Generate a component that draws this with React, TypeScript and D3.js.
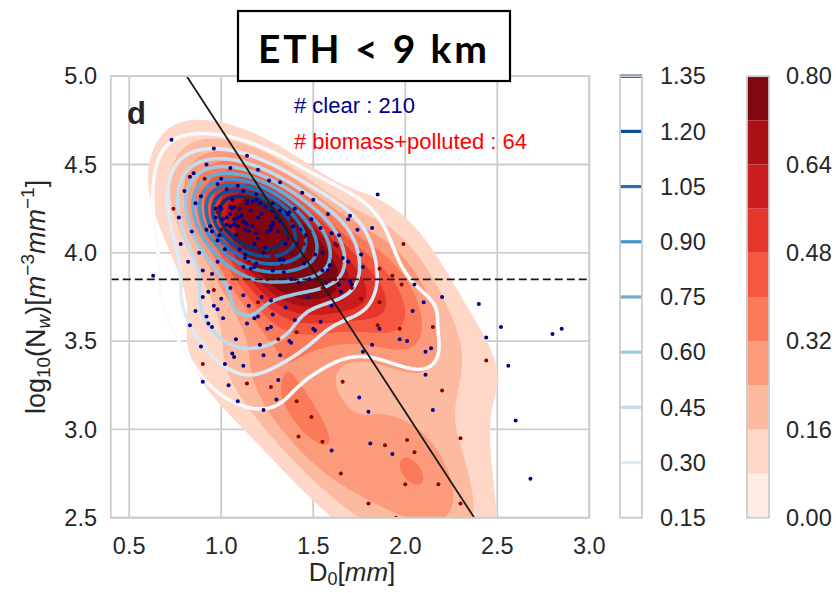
import React, { useMemo } from "react";
import * as d3 from "d3";

const W = 836;
const H = 593;

const xTicks = [0.5, 1.0, 1.5, 2.0, 2.5, 3.0];
const yTicks = [2.5, 3.0, 3.5, 4.0, 4.5, 5.0];
const clearLevels = [0.15, 0.3, 0.45, 0.6, 0.75, 0.9, 1.05, 1.2, 1.35];
const pollutedLevels = [0.0, 0.08, 0.16, 0.24, 0.32, 0.4, 0.48, 0.56, 0.64, 0.72, 0.8];
const pollutedTicks = [0.0, 0.16, 0.32, 0.48, 0.64, 0.8];

// Separator of Bringi et al.: log10(Nw) = -1.6 * D0 + 6.3
const sepSlope = -1.6;
const sepIntercept = 6.3;
const nwThreshold = 3.85;

// [D0 (mm), log10(Nw)] for clear-sky cases
const clearPoints: [number, number][] = [
  [0.73, 4.64], [0.96, 4.59], [1.14, 4.55], [0.83, 4.43], [0.98, 4.39], [1.03, 4.36], [1.26, 4.41], [1.44, 4.34],
  [0.89, 4.32], [0.77, 4.2], [0.97, 4.25], [0.99, 4.26], [1.05, 4.26], [1.06, 4.25], [1.07, 4.26], [0.97, 4.2],
  [1.01, 4.19], [1.05, 4.22], [1.07, 4.19], [1.09, 4.2], [0.94, 4.15], [0.92, 4.13], [0.95, 4.12], [1.03, 4.16],
  [1.07, 4.16], [1.09, 4.15], [1.11, 4.21], [1.13, 4.17], [1.14, 4.16], [1.13, 4.13], [1.19, 4.11], [1.17, 4.29],
  [1.19, 4.3], [1.21, 4.28], [1.14, 4.3], [1.24, 4.26], [1.28, 4.24], [1.32, 4.24], [1.37, 4.23], [1.28, 4.17],
  [1.29, 4.16], [1.27, 4.13], [1.25, 4.12], [1.32, 4.18], [1.39, 4.15], [1.49, 4.19], [1.54, 4.14], [1.43, 4.13],
  [1.6, 4.11], [1.69, 4.19], [1.74, 4.13], [1.85, 4.33], [1.82, 4.14], [1.36, 4.08], [0.98, 4.07], [0.82, 3.95],
  [1.32, 3.96], [1.45, 3.94], [1.55, 4.0], [1.66, 3.97], [1.13, 3.99], [1.23, 4.0], [1.34, 3.96], [1.38, 4.0],
  [1.41, 4.05], [1.51, 3.99], [1.59, 3.93], [1.58, 3.9], [1.69, 3.95], [1.12, 3.92], [1.16, 3.91], [1.18, 3.92],
  [1.19, 3.94], [1.28, 3.9], [1.34, 3.89], [1.38, 3.85], [1.42, 3.83], [1.48, 3.85], [1.57, 3.83], [1.64, 3.82],
  [1.7, 3.84], [1.12, 3.76], [1.27, 3.73], [1.35, 3.69], [1.65, 3.78], [1.54, 3.61], [1.18, 3.63], [1.2, 3.64],
  [1.14, 3.6], [1.25, 3.57], [1.27, 3.58], [1.5, 3.57], [1.37, 3.5], [1.38, 3.49], [1.21, 3.48], [1.32, 3.42],
  [1.23, 3.42], [0.63, 3.87], [0.9, 3.9], [0.93, 3.78], [1.0, 3.74], [0.96, 3.7], [0.98, 3.68], [0.86, 3.67],
  [0.92, 3.64], [0.93, 3.6], [0.95, 3.58], [1.01, 3.63], [0.83, 3.59], [0.89, 3.47], [1.08, 3.51], [1.06, 3.43],
  [1.07, 3.41], [0.9, 3.27], [1.02, 3.37], [1.04, 3.25], [1.09, 3.16], [1.23, 3.11], [1.31, 3.28], [1.3, 3.17],
  [1.12, 3.36], [1.51, 3.56], [1.6, 2.88], [1.75, 3.18], [1.8, 3.1], [1.81, 2.92], [1.93, 2.86], [1.76, 3.99],
  [1.77, 3.92], [1.71, 3.82], [2.05, 3.82], [2.1, 3.72], [2.2, 3.75], [2.4, 3.71], [2.04, 3.67], [1.86, 3.57],
  [2.52, 3.58], [2.8, 3.54], [2.85, 3.57], [2.44, 3.52], [1.82, 3.48], [1.97, 3.51], [2.01, 3.5], [1.77, 3.44],
  [2.11, 3.44], [2.14, 3.46], [2.56, 3.36], [2.11, 3.31], [2.15, 3.11], [2.6, 3.05], [2.68, 2.72], [1.64, 4.1],
  [1.7, 4.21],
  [1.15, 4.12], [1.2, 4.2], [1.1, 4.25], [1.25, 4.1], [1.05, 4.15], [1.18, 4.05], [1.3, 4.2], [1.12, 4.35],
  [1.0, 4.25], [1.35, 4.05], [1.12, 4.18], [1.17, 4.15], [1.08, 4.1], [1.22, 4.22], [1.14, 4.28], [1.2, 4.08],
  [1.1, 4.02], [1.27, 4.15], [1.03, 4.2], [1.16, 4.24], [1.24, 4.03], [1.06, 4.3], [1.31, 4.12], [1.19, 4.33],
  [0.99, 4.1], [1.13, 3.97], [1.28, 4.28], [1.09, 4.38], [1.36, 4.22], [1.02, 4.02],
  [0.85, 4.45], [0.92, 4.5], [1.05, 4.48], [1.2, 4.47], [1.32, 4.4], [1.5, 4.3], [1.58, 4.22], [1.62, 4.05],
  [1.55, 3.9], [1.47, 3.75], [1.4, 3.62], [1.28, 3.65], [1.15, 3.7], [1.05, 3.8], [0.95, 3.88], [0.88, 4.0],
  [0.84, 4.12], [0.86, 4.28], [0.8, 4.35], [0.78, 4.05], [1.0, 4.42], [1.4, 4.25], [1.46, 4.1], [1.22, 3.75],
  [0.98, 3.95], [0.9, 3.75], [1.6, 3.7],
];

// [D0 (mm), log10(Nw)] for biomass-burning and polluted cases
const pollutedPoints: [number, number][] = [
  [0.91, 4.42], [1.14, 4.31], [0.74, 4.25], [0.98, 4.23], [1.0, 4.13], [1.14, 4.26], [1.38, 4.18], [1.34, 4.1],
  [1.45, 4.09], [1.63, 4.04], [1.2, 3.72], [0.96, 3.79], [1.31, 3.51], [1.41, 3.55], [0.9, 3.37], [1.14, 3.26],
  [1.27, 3.24], [1.41, 3.16], [1.49, 3.07], [1.42, 2.96], [1.55, 2.93], [1.65, 2.75], [1.66, 3.27], [1.89, 2.91],
  [2.01, 2.94], [2.05, 2.87], [2.0, 2.69], [2.18, 2.69], [2.3, 2.95], [2.2, 3.22], [2.44, 3.39], [1.85, 3.59],
  [1.97, 3.57], [2.15, 3.58], [1.76, 3.74], [1.86, 3.72], [1.71, 3.8], [1.98, 3.82], [1.86, 3.91], [1.93, 3.87],
  [1.99, 4.05],
  [1.25, 4.1], [1.3, 4.05], [1.35, 4.08], [1.28, 3.98], [1.38, 4.0], [1.33, 3.93], [1.22, 4.02], [1.42, 3.95],
  [1.2, 4.15], [1.45, 4.05], [1.3, 4.15], [1.5, 3.9], [1.4, 3.85], [1.55, 3.8], [1.62, 3.85], [1.15, 3.95],
  [1.25, 3.85], [1.1, 4.1], [1.48, 4.12],
  [1.95, 2.5], [2.15, 2.45], [2.3, 2.58], [1.8, 2.58],
];

const FONT = "'Liberation Sans', Arial, sans-serif";
const TEXT = "#262626";
const GRID = "#cccccc";

const x = d3.scaleLinear().domain([0.4, 3.0]).range([110.8, 589.3]);
const y = d3.scaleLinear().domain([2.5, 5.0]).range([517.7, 76.2]);

// Gaussian KDE with Scott's rule bandwidth and full data covariance
function kdeGrid(pts: [number, number][], x0: number, y0: number, nx: number, ny: number, step: number) {
  const n = pts.length;
  const mx = d3.mean(pts, (p) => p[0])!;
  const my = d3.mean(pts, (p) => p[1])!;
  let sxx = 0, syy = 0, sxy = 0;
  for (const [a, b] of pts) {
    sxx += (a - mx) ** 2;
    syy += (b - my) ** 2;
    sxy += (a - mx) * (b - my);
  }
  sxx /= n - 1; syy /= n - 1; sxy /= n - 1;
  const f2 = Math.pow(n, -1 / 3);
  const a = sxx * f2, b = sxy * f2, c = syy * f2;
  const det = a * c - b * b;
  const ia = c / det, ib = -b / det, ic = a / det;
  const norm = 1 / (2 * Math.PI * Math.sqrt(det) * n);
  const values = new Float64Array(nx * ny);
  const gxs = d3.range(nx).map((i) => x.invert(x0 + i * step));
  for (let j = 0; j < ny; j++) {
    const gy = y.invert(y0 + j * step);
    for (let i = 0; i < nx; i++) {
      const gx = gxs[i];
      let s = 0;
      for (let k = 0; k < n; k++) {
        const dx = gx - pts[k][0];
        const dy = gy - pts[k][1];
        s += Math.exp(-0.5 * (ia * dx * dx + 2 * ib * dx * dy + ic * dy * dy));
      }
      values[i + j * nx] = s * norm;
    }
  }
  return values;
}

const clearColor = (v: number) => d3.interpolateBlues((v - 0.15) / 1.2);
const bandColor = (k: number) => d3.interpolateReds((k + 0.5) / 10);

export default function App() {
  const step = 2;
  const gx0 = 60, gy0 = 30;
  const nx = 290, ny = 280;

  const { redPaths, bluePaths } = useMemo(() => {
    const path = d3.geoPath(
      d3.geoTransform({
        point(px: number, py: number) {
          (this as any).stream.point(gx0 + (px - 0.5) * step, gy0 + (py - 0.5) * step);
        },
      })
    );
    const redVals = kdeGrid(pollutedPoints, gx0, gy0, nx, ny, step);
    const blueVals = kdeGrid(clearPoints, gx0, gy0, nx, ny, step);
    const redC = d3.contours().size([nx, ny]).thresholds(pollutedLevels.slice(1, -1))(Array.from(redVals));
    const blueC = d3.contours().size([nx, ny]).thresholds(clearLevels)(Array.from(blueVals));
    return {
      redPaths: redC.map((c, i) => ({ d: path(c as any) || "", fill: bandColor(i + 1) })),
      bluePaths: blueC.map((c) => ({ d: path(c as any) || "", stroke: clearColor(c.value) })),
    };
  }, []);

  const [xl, xr] = x.range();
  const [yb, yt] = y.range();
  const cbBlue = { x: 620, w: 22 };
  const cbRed = { x: 747, w: 22 };
  const yBlue = d3.scaleLinear().domain([0.15, 1.35]).range([yb, yt]);
  const yRed = d3.scaleLinear().domain([0, 0.8]).range([yb, yt]);

  return (
    <svg width={W} height={H} style={{ position: "absolute", left: 0, top: 0, background: "#fff" }} fontFamily={FONT}>
      <defs>
        <clipPath id="plotClip">
          <rect x={xl} y={yt} width={xr - xl} height={yb - yt} />
        </clipPath>
      </defs>

      {/* grid */}
      {xTicks.map((t) => (
        <line key={"gx" + t} x1={x(t)} x2={x(t)} y1={yt} y2={yb} stroke={GRID} strokeWidth={1.8} />
      ))}
      {yTicks.map((t) => (
        <line key={"gy" + t} x1={xl} x2={xr} y1={y(t)} y2={y(t)} stroke={GRID} strokeWidth={1.8} />
      ))}

      <g clipPath="url(#plotClip)">
        {redPaths.map((p, i) => (
          <path key={"r" + i} d={p.d} fill={p.fill} stroke="none" />
        ))}
        {bluePaths.map((p, i) => (
          <path key={"b" + i} d={p.d} fill="none" stroke={p.stroke} strokeWidth={3.6} strokeLinejoin="round" />
        ))}
        {clearPoints.map((p, i) => (
          <circle key={"c" + i} cx={x(p[0])} cy={y(p[1])} r={2} fill="#00008b" />
        ))}
        {pollutedPoints.map((p, i) => (
          <circle key={"p" + i} cx={x(p[0])} cy={y(p[1])} r={2} fill="#8b0000" />
        ))}
        <line
          x1={x(0.4)} x2={x(3.0)}
          y1={y(sepIntercept + sepSlope * 0.4)} y2={y(sepIntercept + sepSlope * 3.0)}
          stroke="#1a1a1a" strokeWidth={1.8}
        />
        <line x1={xl} x2={xr} y1={y(nwThreshold)} y2={y(nwThreshold)} stroke="#1a1a1a" strokeWidth={1.8} strokeDasharray="8,4" />
      </g>

      {/* spines */}
      <rect x={xl} y={yt} width={xr - xl} height={yb - yt} fill="none" stroke={GRID} strokeWidth={1.8} />

      {/* tick labels */}
      {xTicks.map((t) => (
        <text key={"tx" + t} x={x(t)} y={554} textAnchor="middle" fontSize={23.5} fill={TEXT}>
          {t.toFixed(1)}
        </text>
      ))}
      {yTicks.map((t) => (
        <text key={"ty" + t} x={97} y={y(t)} dy="0.35em" textAnchor="end" fontSize={23.5} fill={TEXT}>
          {t.toFixed(1)}
        </text>
      ))}

      {/* axis labels */}
      <text x={352} y={581} textAnchor="middle" fontSize={26} fill={TEXT}>
        D<tspan dy={4} fontSize={18}>0</tspan>
        <tspan dy={-4}>[</tspan>
        <tspan fontStyle="italic">mm</tspan>]
      </text>
      <text transform={`translate(45, ${(yt + yb) / 2}) rotate(-90)`} textAnchor="middle" fontSize={27} fill={TEXT}>
        log<tspan dy={5} fontSize={19}>10</tspan>
        <tspan dy={-5}>(N</tspan>
        <tspan dy={5} fontSize={19} fontStyle="italic">w</tspan>
        <tspan dy={-5}>)[</tspan>
        <tspan fontStyle="italic">m</tspan>
        <tspan dy={-11} fontSize={19}>−3</tspan>
        <tspan dy={11} fontStyle="italic">mm</tspan>
        <tspan dy={-11} fontSize={19}>−1</tspan>
        <tspan dy={11}>]</tspan>
      </text>

      {/* annotations */}
      <text x={127} y={124} fontSize={31} fontWeight="bold" fill={TEXT}>d</text>
      <text x={294} y={113} fontSize={22} fill="#00008b">
        # clear : {clearPoints.length}
      </text>
      <text x={294} y={149} fontSize={22} fill="#ff0000">
        # biomass+polluted : {pollutedPoints.length}
      </text>

      {/* title box */}
      <rect x={238} y={11} width={272} height={70} fill="#fff" stroke="#000" strokeWidth={2.2} />
      <text
        x={258} y={63} fontSize={39} fontWeight="bold" fontFamily="Lato, 'Open Sans', sans-serif" fill="#000"
        textLength={229} lengthAdjust="spacing"
      >
        ETH &lt; 9 km
      </text>

      {/* clear colorbar */}
      <rect x={cbBlue.x} y={yt} width={cbBlue.w} height={yb - yt} fill="#fff" />
      {clearLevels.map((lv) => (
        <line key={"cbb" + lv} x1={cbBlue.x} x2={cbBlue.x + cbBlue.w} y1={yBlue(lv)} y2={yBlue(lv)} stroke={clearColor(lv)} strokeWidth={3.2} />
      ))}
      <rect x={cbBlue.x} y={yt} width={cbBlue.w} height={yb - yt} fill="none" stroke={GRID} strokeWidth={1.8} />
      {clearLevels.map((lv) => (
        <text key={"cbbt" + lv} x={660} y={yBlue(lv)} dy="0.35em" fontSize={23.5} fill={TEXT}>
          {lv.toFixed(2)}
        </text>
      ))}

      {/* polluted colorbar */}
      {pollutedLevels.slice(0, -1).map((lv, k) => (
        <rect key={"cbr" + lv} x={cbRed.x} y={yRed(pollutedLevels[k + 1])} width={cbRed.w} height={yRed(lv) - yRed(pollutedLevels[k + 1])} fill={bandColor(k)} />
      ))}
      <rect x={cbRed.x} y={yt} width={cbRed.w} height={yb - yt} fill="none" stroke={GRID} strokeWidth={1.8} />
      {pollutedTicks.map((lv) => (
        <text key={"cbrt" + lv} x={786} y={yRed(lv)} dy="0.35em" fontSize={23.5} fill={TEXT}>
          {lv.toFixed(2)}
        </text>
      ))}
    </svg>
  );
}
